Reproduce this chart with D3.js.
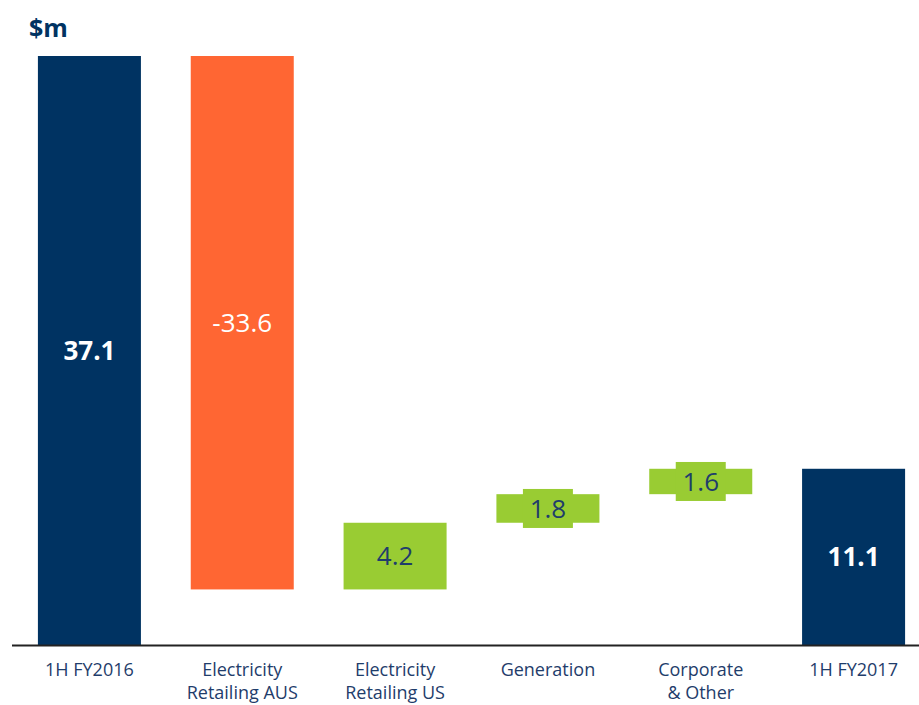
<!DOCTYPE html>
<html>
<head>
<meta charset="utf-8">
<script src="https://cdn.jsdelivr.net/npm/d3@7"></script>
<style>
  body { margin: 0; background: #fff; }
  text { font-family: "Open Sans", "Liberation Sans", sans-serif; }
</style>
</head>
<body>
<div id="chart"></div>
<script>
// chart data
const categories = ["1H FY2016", "Electricity Retailing AUS", "Electricity Retailing US", "Generation", "Corporate & Other", "1H FY2017"];
const labelLines = [["1H FY2016"], ["Electricity", "Retailing AUS"], ["Electricity", "Retailing US"], ["Generation"], ["Corporate", "& Other"], ["1H FY2017"]];
const values = [37.1, -33.6, 4.2, 1.8, 1.6, 11.1];
const kinds = ["total", "delta", "delta", "delta", "delta", "total"];

const width = 919, height = 705;
const NAVY = "#003362", ORANGE = "#ff6633", GREEN = "#99cc33", TEXT = "#1f3d6b";

const svg = d3.select("#chart").append("svg")
  .attr("width", width)
  .attr("height", height);

// running totals for the waterfall
let run = 0;
const bars = categories.map((c, i) => {
  let y0, y1;
  if (kinds[i] === "total") { y0 = 0; y1 = values[i]; run = values[i]; }
  else { y0 = run; y1 = run + values[i]; run = y1; }
  return { cat: c, lines: labelLines[i], value: values[i], kind: kinds[i], lo: Math.min(y0, y1), hi: Math.max(y0, y1) };
});

const x = d3.scaleBand()
  .domain(categories)
  .range([13, 930])
  .paddingInner(0.326)
  .paddingOuter(0.163);

const y = d3.scaleLinear()
  .domain([0, 37.1])
  .range([645, 56]);

const fillFor = d => d.kind === "total" ? NAVY : (d.value < 0 ? ORANGE : GREEN);

// bars
svg.selectAll(".bar")
  .data(bars)
  .enter()
  .append("rect")
  .attr("class", "bar")
  .attr("x", d => x(d.cat))
  .attr("y", d => y(d.hi))
  .attr("width", x.bandwidth())
  .attr("height", d => y(d.lo) - y(d.hi))
  .attr("fill", fillFor);

// green label boxes for small deltas (label taller than bar)
const smallBars = bars.filter(d => d.kind === "delta" && d.value > 0 && (y(d.lo) - y(d.hi)) < 40);
svg.selectAll(".lblbox")
  .data(smallBars)
  .enter()
  .append("rect")
  .attr("class", "lblbox")
  .attr("x", d => x(d.cat) + x.bandwidth() / 2 - 25)
  .attr("y", d => (y(d.lo) + y(d.hi)) / 2 - 19.5)
  .attr("width", 50)
  .attr("height", 39)
  .attr("fill", GREEN);

// value labels
svg.selectAll(".val")
  .data(bars)
  .enter()
  .append("text")
  .attr("class", "val")
  .attr("x", d => x(d.cat) + x.bandwidth() / 2)
  .attr("y", d => (y(d.lo) + y(d.hi)) / 2)
  .attr("dy", "0.36em")
  .attr("text-anchor", "middle")
  .style("font-size", "26px")
  .style("font-weight", d => d.kind === "total" ? "bold" : "normal")
  .style("fill", d => (d.kind === "total" || d.value < 0) ? "#fff" : TEXT)
  .text(d => d.value.toFixed(1));

// baseline
svg.append("line")
  .attr("x1", 12)
  .attr("x2", width)
  .attr("y1", y(0) + 0.5)
  .attr("y2", y(0) + 0.5)
  .attr("stroke", "#222")
  .attr("stroke-width", 2);

// category labels
const cat = svg.selectAll(".cat")
  .data(bars)
  .enter()
  .append("text")
  .attr("class", "cat")
  .attr("text-anchor", "middle")
  .style("font-size", "18px")
  .style("fill", TEXT);
cat.selectAll("tspan")
  .data(d => d.lines.map(l => ({ l, cx: x(d.cat) + x.bandwidth() / 2 })))
  .enter()
  .append("tspan")
  .attr("x", d => d.cx)
  .attr("y", (d, i) => 676 + i * 23)
  .text(d => d.l);

// unit label
svg.append("text")
  .attr("x", 29)
  .attr("y", 37)
  .style("font-size", "25px")
  .style("font-weight", "bold")
  .style("fill", NAVY)
  .text("$m");
</script>
</body>
</html>
